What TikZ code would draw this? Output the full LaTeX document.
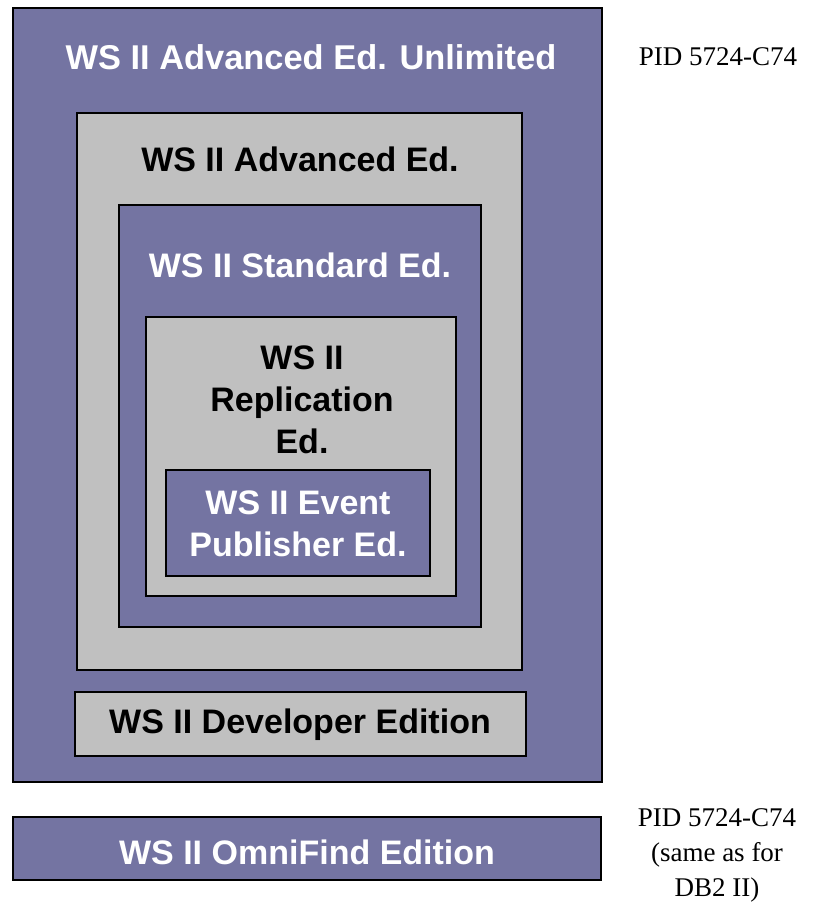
\documentclass[tikz,border=0pt]{standalone}
\usepackage{fontspec}
\setmainfont{Liberation Serif}
\setsansfont{Liberation Sans}
\definecolor{wsPurple}{RGB}{116,116,162}
\definecolor{wsGray}{RGB}{192,192,192}
\tikzset{
  purplebox/.style={draw=black, line width=2pt, fill=wsPurple},
  graybox/.style={draw=black, line width=2pt, fill=wsGray},
  whitelbl/.style={text=white, font=\sffamily\bfseries\fontsize{34}{42}\selectfont, align=center, inner sep=0pt},
  blacklbl/.style={text=black, font=\sffamily\bfseries\fontsize{34}{42}\selectfont, align=center, inner sep=0pt},
  pidlbl/.style={text=black, font=\rmfamily\fontsize{27}{35}\selectfont, align=center, inner sep=0pt}
}
\begin{document}
\begin{tikzpicture}[x=1pt,y=-1pt]
\useasboundingbox (0,0) rectangle (830,906);
% boxes
\draw[purplebox] (13,8) rectangle (602,782);
\draw[graybox] (77,113) rectangle (522,670);
\draw[purplebox] (119,205) rectangle (481,627);
\draw[graybox] (146,317) rectangle (456,596);
\draw[purplebox] (166,470) rectangle (430,576);
\draw[graybox] (75,692) rectangle (526,756);
\draw[purplebox] (13,817) rectangle (601,880);
% labels
\node[whitelbl, font=\sffamily\bfseries\fontsize{34.4}{42}\selectfont] (unl) at (311,57) {WS II Advanced Ed. Unlimited};
\node[blacklbl] (adv) at (300,159) {WS II Advanced Ed.};
\node[whitelbl] (std) at (300,265) {WS II Standard Ed.};
\node[blacklbl] (rep) at (302,400) {WS II\\Replication\\Ed.};
\node[whitelbl] (evt) at (298,524) {WS II Event\\Publisher Ed.};
\node[blacklbl] (dev) at (300,725) {WS II Developer Edition};
\node[whitelbl] (omni) at (307,852) {WS II OmniFind Edition};
\node[pidlbl] (pid1) at (718,57) {PID 5724-C74};
\node[pidlbl] (pid2) at (717,855) {PID 5724-C74\\(same as for\\DB2 II)};
\end{tikzpicture}
\end{document}
